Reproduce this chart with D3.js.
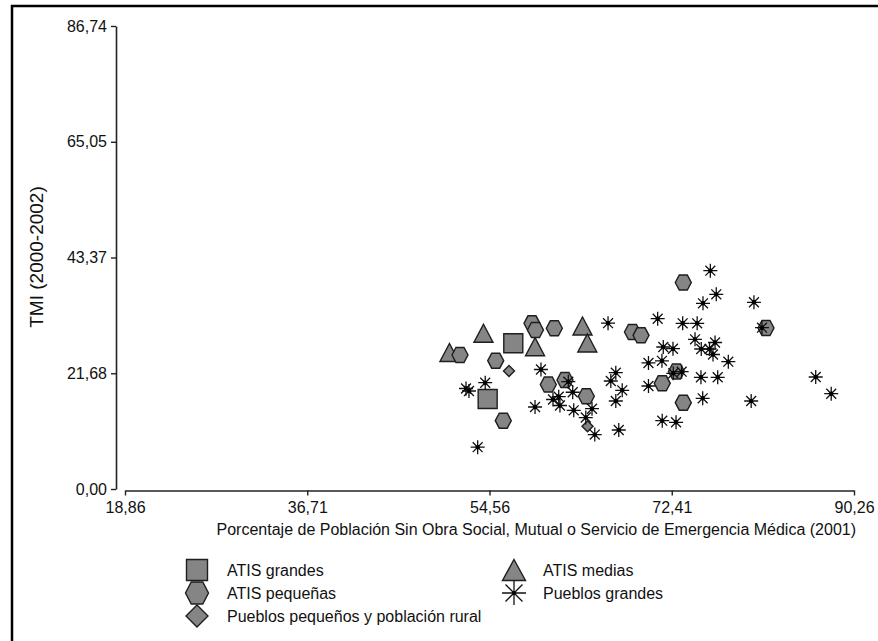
<!DOCTYPE html>
<html><head><meta charset="utf-8">
<script src="https://cdn.jsdelivr.net/npm/d3@7"></script>
<style>
body{margin:0;background:#fff}
text{font-family:Arial,"Liberation Sans",sans-serif;fill:#111}
</style></head>
<body><svg id="chart" width="878" height="641"></svg>
<script>
// ---- data ----
const xTickValues = [18.86, 36.71, 54.56, 72.41, 90.26];
const xTickLabels = ["18,86", "36,71", "54,56", "72,41", "90,26"];
const yTickValues = [0, 21.68, 43.37, 65.05, 86.74];
const yTickLabels = ["0,00", "21,68", "43,37", "65,05", "86,74"];
const xTitle = "Porcentaje de Población Sin Obra Social, Mutual o Servicio de Emergencia Médica (2001)";
const yTitle = "TMI (2000-2002)";
const seriesNames = ["ATIS grandes", "ATIS medias", "ATIS pequeñas", "Pueblos grandes", "Pueblos pequeños y población rural"];

const atisGrandes = [[56.89,27.30],[54.38,16.86]];
const atisMedias = [[53.97,29.17],[50.64,25.57],[59.02,26.66],[63.67,30.54],[64.14,27.35]];
const atisPequenas = [[51.67,25.10],[55.17,24.04],[55.91,12.80],[58.72,31.04],[59.06,29.79],[60.91,30.12],
  [60.32,19.58],[61.95,20.42],[64.04,17.37],[68.56,29.41],[69.40,28.79],[73.54,38.69],[72.87,22.01],
  [71.48,19.80],[73.54,16.17],[81.64,30.16]];
const pueblosPequenos = [[56.47,22.11],[64.16,11.75]];
const pueblosGrandes = [[52.26,18.83],[52.55,18.36],[54.14,19.91],[53.40,7.83],[59.02,15.36],[59.60,22.39],
  [62.28,20.10],[62.71,18.13],[60.78,16.77],[61.34,17.29],[61.46,15.64],[62.81,14.74],[64.60,15.04],
  [63.99,13.39],[64.87,10.19],[66.17,31.06],[66.93,21.79],[66.44,20.23],[67.56,18.49],[66.93,16.49],
  [67.22,11.05],[71.03,31.90],[70.13,23.61],[70.13,19.30],[71.45,24.02],[71.58,26.60],[72.53,26.28],
  [73.48,31.04],[74.90,31.04],[76.19,40.90],[76.77,36.47],[75.47,34.79],[80.46,34.98],[74.69,28.04],
  [76.65,27.45],[75.30,26.23],[76.11,26.23],[76.45,25.20],[77.95,23.85],[72.56,21.68],[73.38,21.98],
  [75.27,20.93],[76.91,20.93],[75.44,16.99],[80.19,16.49],[71.48,12.80],[72.83,12.50],[81.25,30.22],
  [86.51,20.98],[88.03,17.85]];

// ---- layout ----
const svg = d3.select("#chart");
const x = d3.scaleLinear().domain([18.86, 90.26]).range([125, 854]);
const y = d3.scaleLinear().domain([0, 86.74]).range([489, 26]);
const FILL = "#858585", STROKE = "#1e1e1e";

// frame
svg.append("path").attr("d","M12,641V6H878").attr("fill","none").attr("stroke","#000").attr("stroke-width",2.5);

// axes
const yAxis = d3.axisLeft(y).tickValues(yTickValues)
  .tickFormat((d,i)=>yTickLabels[i]).tickSizeInner(5).tickSizeOuter(0).tickPadding(4);
const gy = svg.append("g").attr("transform","translate(116,0)").call(yAxis);
const xAxis = d3.axisBottom(x).tickValues(xTickValues)
  .tickFormat((d,i)=>xTickLabels[i]).tickSizeInner(5).tickSizeOuter(0).tickPadding(6);
const gx = svg.append("g").attr("transform","translate(0,490.5)").call(xAxis);
[gx, gy].forEach(g=>{
  g.selectAll("path.domain").attr("stroke","#222").attr("stroke-width",1.6);
  g.selectAll(".tick line").attr("stroke","#222").attr("stroke-width",1.4);
  g.selectAll("text").attr("font-size",16).attr("fill","#111")
   .style("font-family",'Arial,"Liberation Sans",sans-serif');
});

svg.append("text").attr("x",856).attr("y",535).attr("text-anchor","end")
  .attr("font-size",16).text(xTitle);
svg.append("text").attr("transform","translate(43,257) rotate(-90)").attr("text-anchor","middle")
  .attr("font-size",19).text(yTitle);

// ---- symbol paths ----
function squarePath(s){const h=s/2;return `M${-h},${-h}H${h}V${h}H${-h}Z`;}
function trianglePath(w,h){return `M0,${-h/2}L${w/2},${h/2}L${-w/2},${h/2}Z`;}
function hexPath(w,h){return `M${-w/2},0L${-w/4},${-h/2}L${w/4},${-h/2}L${w/2},0L${w/4},${h/2}L${-w/4},${h/2}Z`;}
function diamondPath(r){return `M0,${-r}L${r},0L0,${r}L${-r},0Z`;}
function starPath(r){const d=r*0.7071;return `M0,${-r}V${r}M${-r},0H${r}M${-d},${-d}L${d},${d}M${d},${-d}L${-d},${d}`;}

function drawShapes(g, data, path){
  g.selectAll(null).data(data).enter().append("path")
    .attr("transform",d=>`translate(${x(d[0])},${y(d[1])})`)
    .attr("d",path).attr("fill",FILL).attr("stroke",STROKE).attr("stroke-width",1.4);
}
function drawStars(g, data, r, dot){
  const s = g.selectAll(null).data(data).enter().append("g")
    .attr("transform",d=>`translate(${x(d[0])},${y(d[1])})`);
  s.append("path").attr("d",starPath(r)).attr("stroke","#111").attr("stroke-width",1.3).attr("fill","none");
  s.append("circle").attr("r",dot).attr("fill","#000");
}

const plot = svg.append("g");
drawShapes(plot, atisGrandes, squarePath(19));
drawShapes(plot, atisMedias, trianglePath(19,18));
drawShapes(plot, atisPequenas, hexPath(16,15));
drawShapes(plot, pueblosPequenos, diamondPath(5.5));
drawStars(plot, pueblosGrandes, 7, 2.2);

// ---- legend ----
const leg = svg.append("g");
const legItems = [
  {name:seriesNames[0], cx:197, cy:570, tx:227, d:squarePath(21)},
  {name:seriesNames[1], cx:514, cy:570, tx:543, d:trianglePath(23,21)},
  {name:seriesNames[2], cx:197, cy:593, tx:227, d:hexPath(23,22)},
  {name:seriesNames[3], cx:514, cy:593, tx:543, star:true},
  {name:seriesNames[4], cx:197, cy:616, tx:227, d:diamondPath(11)}
];
legItems.forEach(it=>{
  if(it.star){
    const g = leg.append("g").attr("transform",`translate(${it.cx},${it.cy})`);
    g.append("path").attr("d",starPath(12)).attr("stroke","#111").attr("stroke-width",1.3).attr("fill","none");
    g.append("circle").attr("r",2).attr("fill","#000");
  } else {
    leg.append("path").attr("transform",`translate(${it.cx},${it.cy})`).attr("d",it.d)
      .attr("fill",FILL).attr("stroke",STROKE).attr("stroke-width",1.4);
  }
  leg.append("text").attr("x",it.tx).attr("y",it.cy).attr("dy","0.35em").attr("font-size",16).text(it.name);
});
</script></body></html>
